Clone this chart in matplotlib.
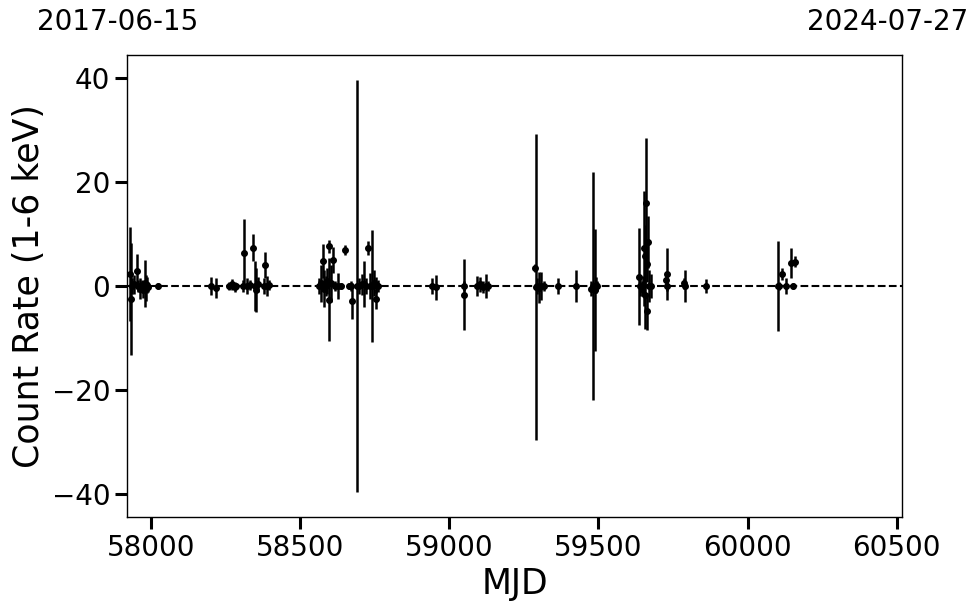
import matplotlib
matplotlib.use("Agg")
import matplotlib.pyplot as plt
import numpy as np

mjd = [
    57929, 57931, 57937, 57944, 57952, 57957, 57964, 57969, 57974, 57979, 57982, 57985, 57989, 58022,
    58202, 58216, 58260, 58270, 58280, 58284,
    58312, 58309, 58321, 58331, 58342, 58348, 58358, 58353, 58378, 58383, 58388, 58394,
    58563, 58570, 58577, 58580, 58586, 58590, 58597, 58598, 58603, 58611, 58616, 58626, 58650, 58638, 58663,
    58672, 58669, 58689, 58696, 58706, 58713, 58720, 58727, 58733, 58742, 58746, 58755, 58753, 58760,
    58941, 58955,
    59050, 59048, 59093, 59103, 59113, 59123, 59129,
    59287, 59289, 59294, 59300, 59309, 59317,
    59364, 59426,
    59475, 59482, 59488, 59491, 59495,
    59637, 59639, 59646, 59659, 59667, 59653, 59655, 59664, 59655, 59663, 59649, 59669, 59675,
    59729, 59727, 59730,
    59790, 59788,
    59860,
    60103, 60106, 60116, 60130, 60145, 60153, 60159,
]
rate = [
    2.3, -2.5, 0.0, 0.3, 2.8, 0.0, -0.5, 0.2, -0.8, 0.5, -0.3, 0.2, -0.2, 0.0,
    0.0, -0.4, 0.0, 0.3, -0.2, 0.0,
    6.3, 0.0, 0.0, 0.2, 7.4, 0.0, 0.3, -0.8, 0.0, 4.0, 0.0, 0.2,
    0.0, 0.5, 4.8, -0.5, 0.0, 1.0, 7.6, -2.6, 0.5, 5.0, 0.0, 0.0, 6.9, 0.0, 0.0,
    -2.9, 0.0, 0.0, 0.0, 0.3, 0.4, 0.0, 7.3, 0.0, 0.0, 0.5, -2.5, 0.2, 0.0,
    0.0, -0.2,
    -1.7, 0.0, 0.0, 0.3, -0.2, 0.0, 0.0,
    3.4, -0.2, 0.0, -0.3, 0.0, 0.0,
    0.0, 0.0,
    -0.5, 0.0, -0.8, 0.2, 0.0,
    1.8, 0.0, -0.5, 16.0, 8.5, 7.25, 5.8, 4.2, -1.7, -4.9, 0.0, 0.0, 0.0,
    2.4, 1.2, 0.0,
    0.0, 0.5,
    0.0,
    0.0, 0.0, 2.3, 0.0, 4.5, 0.0, 4.7,
]
err = [
    9.0, 10.8, 1.5, 1.8, 3.3, 1.2, 2.0, 1.0, 1.5, 4.5, 2.5, 1.5, 1.0, 0.6,
    1.8, 2.0, 0.8, 1.0, 1.0, 0.6,
    6.6, 1.2, 1.5, 1.0, 2.5, 4.8, 1.5, 4.2, 1.5, 2.5, 2.0, 1.0,
    1.5, 3.5, 3.2, 3.5, 2.0, 2.5, 1.2, 8.0, 3.5, 2.5, 1.0, 2.5, 1.0, 0.6, 0.6,
    3.5, 1.0, 39.6, 1.5, 2.0, 4.5, 1.5, 1.3, 2.5, 10.7, 2.5, 2.0, 1.5, 1.2,
    1.5, 2.4,
    6.8, 1.0, 2.0, 1.5, 1.2, 2.3, 1.0,
    0.8, 29.4, 1.5, 3.0, 2.7, 1.0,
    1.6, 3.0,
    1.5, 22.0, 11.7, 1.5, 1.0,
    9.3, 2.0, 1.5, 12.5, 5.0, 11.0, 6.0, 3.5, 6.5, 3.5, 2.0, 3.0, 2.4,
    5.0, 1.0, 1.0,
    3.0, 1.0,
    1.3,
    8.7, 0.8, 1.2, 1.6, 2.9, 0.6, 1.0,
]

xlim = (57919, 60518)
ylim = (-44.4, 44.4)
start_label = "2017-06-15"
end_label = "2024-07-27"

fig = plt.figure(figsize=(9.8, 6.13), dpi=100)
ax = fig.add_axes([127/980, 1-517/613, 775/980, 462/613])

ax.axhline(0, color="black", ls="--", lw=1.5, zorder=1)
ax.errorbar(mjd, rate, yerr=err, fmt="o", color="black", ms=4,
            elinewidth=1.8, capsize=0, zorder=3)

ax.set_xlim(*xlim)
ax.set_ylim(*ylim)
ax.set_xticks([58000, 58500, 59000, 59500, 60000, 60500])
ax.set_yticks([-40, -20, 0, 20, 40])
ax.tick_params(axis="both", which="major", labelsize=20, length=8.5, width=2.2, direction="out")
for s in ax.spines.values():
    s.set_linewidth(1.0)

ax.set_xlabel("MJD", fontsize=25)
ax.set_ylabel("Count Rate (1-6 keV)", fontsize=25)

fig.text(118/980, 1-22/613, start_label, ha="center", va="center", fontsize=20)
fig.text(888/980, 1-22/613, end_label, ha="center", va="center", fontsize=20)

fig.savefig("out.png", dpi=100)
